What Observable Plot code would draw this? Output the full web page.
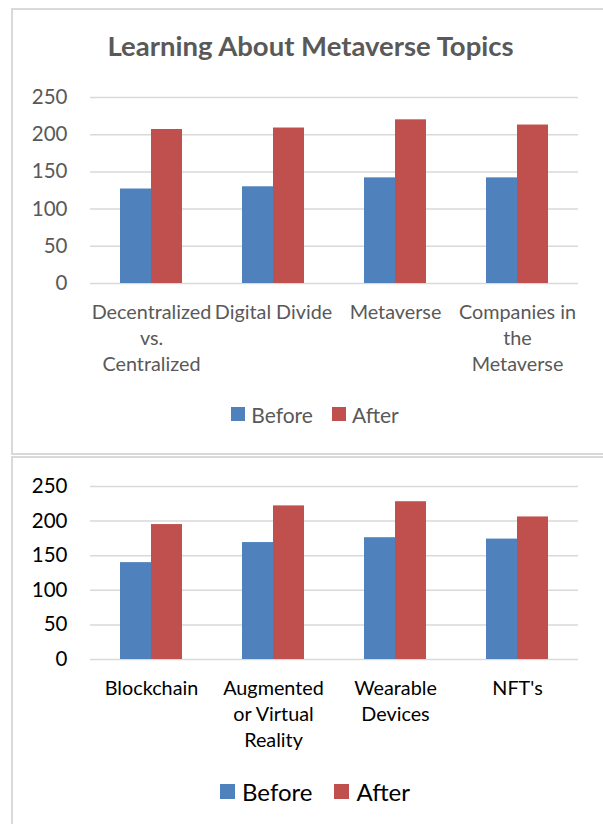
<!DOCTYPE html>
<html>
<head>
<meta charset="utf-8">
<script src="https://cdn.jsdelivr.net/npm/d3@7"></script>
<script src="https://cdn.jsdelivr.net/npm/@observablehq/plot@0.6"></script>
<style>
  body { margin: 0; width: 603px; height: 824px; position: relative; overflow: hidden; background: #fff; font-family: Lato, sans-serif; }
  .panel { position: absolute; border: 2px solid #d9d9d9; box-sizing: border-box; pointer-events: none; z-index: 2; }
  .chart { position: absolute; left: 0; }
  .title { position: absolute; left: 0; width: 621px; text-align: center; font-weight: bold; color: #595959; }
  .legend { position: absolute; left: 12px; width: 606px; display: flex; justify-content: center; align-items: center; }
  .legend .item { display: flex; align-items: center; }
  .legend .sw { display: inline-block; }
</style>
</head>
<body>
<div class="panel" style="left:11px;top:8px;width:620px;height:447px;"></div>
<div class="panel" style="left:11px;top:456px;width:620px;height:400px;"></div>
<div class="title" style="top:29px;font-size:27.5px;">Learning About Metaverse Topics</div>
<div id="c1" class="chart" style="top:0px;"></div>
<div id="c2" class="chart" style="top:460px;"></div>
<div id="l1" class="legend" style="top:401px;height:26px;"></div>
<div id="l2" class="legend" style="top:777px;height:28px;"></div>
<script>
const series = ["Before", "After"];
const colors = ["#4F81BD", "#C0504D"];
const yTicks = [0, 50, 100, 150, 200, 250];

const topics1 = ["Decentralized vs. Centralized", "Digital Divide", "Metaverse", "Companies in the Metaverse"];
const labels1 = ["Decentralized\nvs.\nCentralized", "Digital Divide", "Metaverse", "Companies in\nthe\nMetaverse"];
const before1 = [127, 130, 142, 142];
const after1 = [207, 209, 220, 213];

const topics2 = ["Blockchain", "Augmented or Virtual Reality", "Wearable Devices", "NFT's"];
const labels2 = ["Blockchain", "Augmented\nor Virtual\nReality", "Wearable\nDevices", "NFT's"];
const before2 = [140, 169, 176, 174];
const after2 = [195, 222, 228, 206];

function makeChart(topics, labels, before, after, o) {
  const data = [];
  topics.forEach((t, i) => {
    data.push({topic: t, series: "Before", value: before[i]});
    data.push({topic: t, series: "After", value: after[i]});
  });
  return Plot.plot({
    width: 603,
    height: o.height,
    marginTop: o.marginTop,
    marginBottom: o.marginBottom,
    marginLeft: 89,
    marginRight: 24,
    style: {background: "none", color: o.color, fontFamily: "Lato, sans-serif", fontSize: o.tickFont + "px", overflow: "visible"},
    fx: {domain: topics, paddingInner: 0, paddingOuter: 0, axis: null, label: null},
    x: {domain: series, paddingInner: 0, paddingOuter: 0.914, axis: null},
    y: {domain: [0, 250], ticks: yTicks, tickSize: 0, tickPadding: 23, label: null},
    color: {domain: series, range: colors},
    marks: [
      Plot.gridY(yTicks, {stroke: "#d9d9d9", strokeOpacity: 1, strokeWidth: 1.5}),
      Plot.barY(data, {fx: "topic", x: "series", y: "value", fill: "series"}),
      Plot.text(topics, {fx: d => d, text: (d, i) => labels[i], frameAnchor: "bottom", lineAnchor: "top", dy: o.labelDy, lineHeight: 1.32, fontSize: 19.8, fill: o.color})
    ]
  });
}

document.getElementById("c1").appendChild(makeChart(topics1, labels1, before1, after1,
  {height: 400, marginTop: 97, marginBottom: 117, color: "#595959", tickFont: 20.5, labelDy: 17}));
document.getElementById("c2").appendChild(makeChart(topics2, labels2, before2, after2,
  {height: 300, marginTop: 26, marginBottom: 101, color: "#000000", tickFont: 20.5, labelDy: 17}));

function legend(id, sw, font, color, gapIn, gapOut) {
  const el = document.getElementById(id);
  series.forEach((s, i) => {
    const item = document.createElement("div");
    item.className = "item";
    if (i > 0) item.style.marginLeft = gapOut + "px";
    const box = document.createElement("span");
    box.className = "sw";
    box.style.width = sw + "px"; box.style.height = sw + "px"; box.style.background = colors[i];
    const t = document.createElement("span");
    t.textContent = s; t.style.fontSize = font + "px"; t.style.color = color; t.style.marginLeft = gapIn + "px";
    item.appendChild(box); item.appendChild(t);
    el.appendChild(item);
  });
}
legend("l1", 14, 21, "#595959", 6, 19);
legend("l2", 15, 24, "#000000", 7, 22);
</script>
</body>
</html>
